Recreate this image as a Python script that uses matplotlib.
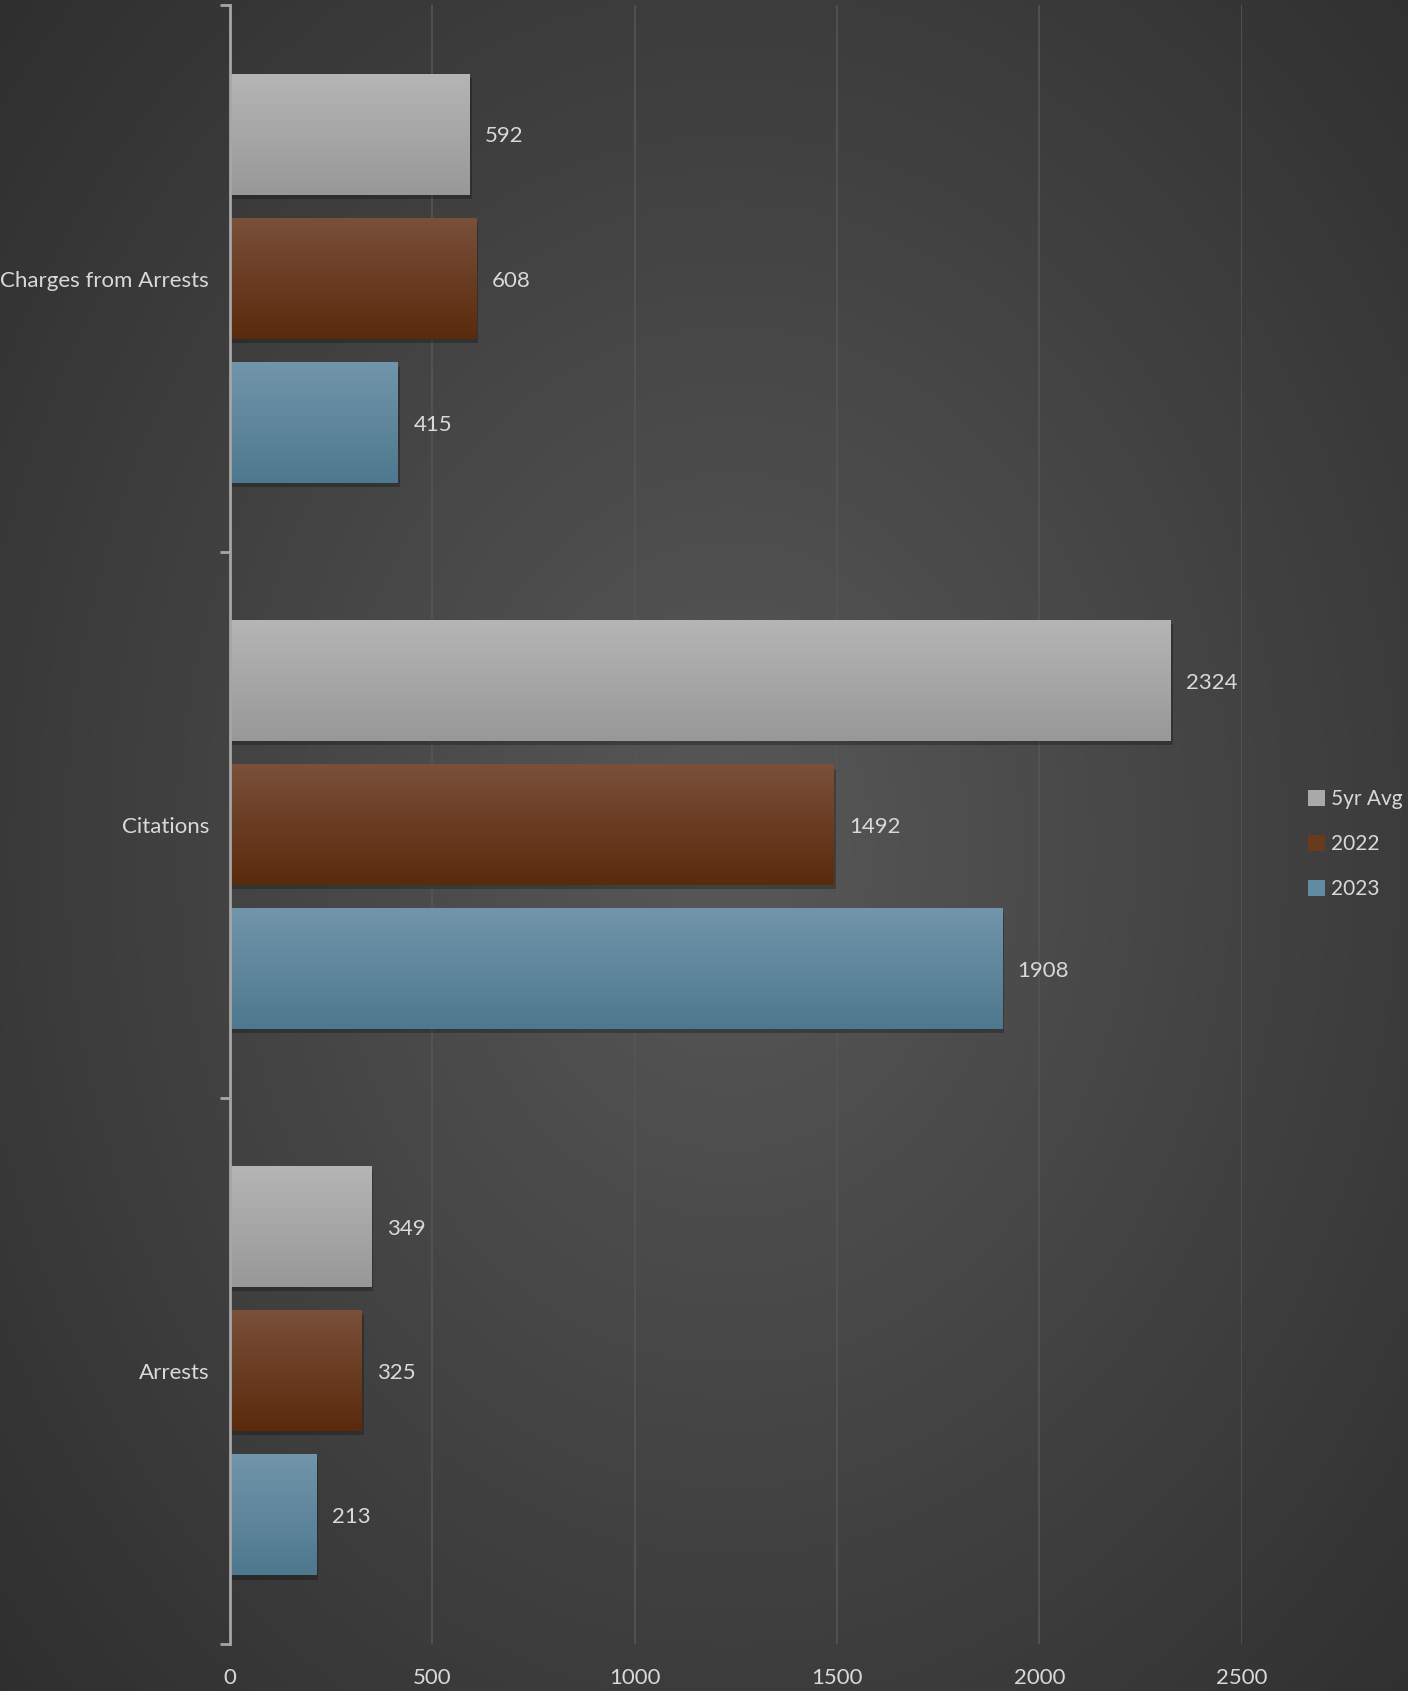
import numpy as np
import matplotlib
matplotlib.use("Agg")
from matplotlib import pyplot as plt
from matplotlib import patheffects as pe
from matplotlib.patches import Patch

plt.rcParams['font.family'] = ['Lato', 'DejaVu Sans']

# data
categories = ['Arrests', 'Citations', 'Charges from Arrests']
series = ['5yr Avg', '2022', '2023']
values = {
    '5yr Avg': [349, 2324, 592],
    '2022': [325, 1492, 608],
    '2023': [213, 1908, 415],
}
# (top colour, bottom colour) of each series' gradient
grad_colors = {
    '5yr Avg': ('#b5b5b5', '#989898'),
    '2022': ('#7a503a', '#5a2a0c'),
    '2023': ('#7195ab', '#4e788f'),
}
legend_colors = {'5yr Avg': '#a9a9a9', '2022': '#6a3a1f', '2023': '#628aa2'}
offsets = {'5yr Avg': 0.264, '2022': 0.0, '2023': -0.264}
bar_h = 0.221
text_col = '#d9d9d9'
fs = 16


def hex2rgb(h):
    return np.array(matplotlib.colors.to_rgb(h))


fig = plt.figure(figsize=(14.08, 16.91), dpi=100)

# radial background
bg = fig.add_axes([0, 0, 1, 1], zorder=-10)
yy, xx = np.mgrid[0:1:400j, 0:1:340j]
r = np.sqrt(((xx - 0.52) / 0.75) ** 2 + ((yy - 0.5) / 0.8) ** 2)
r = np.clip(r, 0, 1)
c_in, c_out = hex2rgb('#585858'), hex2rgb('#2c2c2c')
img = c_in[None, None, :] * (1 - r[..., None]) + c_out[None, None, :] * r[..., None]
bg.imshow(img, extent=[0, 1, 0, 1], aspect='auto', interpolation='bilinear')
bg.set_axis_off()

ax = fig.add_axes([0.1634, 0.0278, 0.882 - 0.1634, 0.9968 - 0.0278])
ax.patch.set_alpha(0)

y = np.arange(len(categories))
for s in series:
    ypos = y + offsets[s]
    bars = ax.barh(ypos, values[s], height=bar_h, color=grad_colors[s][1],
                   zorder=3,
                   path_effects=[pe.SimplePatchShadow(offset=(1.5, -3), alpha=0.25,
                                                      shadow_rgbFace='black'),
                                 pe.Normal()])
    top, bot = hex2rgb(grad_colors[s][0]), hex2rgb(grad_colors[s][1])
    t = np.linspace(0, 1, 64)[:, None]
    grad = top[None, None, :] * (1 - t[..., None]) + bot[None, None, :] * t[..., None]
    grad = np.repeat(grad, 2, axis=1)
    for b, v in zip(bars, values[s]):
        x0, y0 = b.get_x(), b.get_y()
        ax.imshow(grad, extent=[x0, x0 + b.get_width(), y0, y0 + b.get_height()],
                  aspect='auto', zorder=4, interpolation='bilinear')
        ax.annotate(str(v), (v, y0 + b.get_height() / 2), xytext=(11, 0),
                    textcoords='offset points', va='center_baseline', ha='left',
                    color=text_col, fontsize=fs)

ax.set_xlim(0, 2500)
ax.set_ylim(-0.5, 2.5)
ax.set_aspect('auto')

ax.set_xticks([0, 500, 1000, 1500, 2000, 2500])
ax.set_yticks(y)
ax.set_yticklabels(categories)
ax.set_yticks([-0.5, 0.5, 1.5, 2.5], minor=True)
ax.tick_params(axis='y', which='major', length=0, pad=15, labelsize=fs,
               labelcolor=text_col)
ax.tick_params(axis='y', which='minor', length=7, width=2, color='#a6a6a6')
ax.tick_params(axis='x', length=0, pad=17, labelsize=fs, labelcolor=text_col)

for side in ['top', 'right', 'bottom']:
    ax.spines[side].set_visible(False)
ax.spines['left'].set_color('#a6a6a6')
ax.spines['left'].set_linewidth(2)
ax.spines['left'].set_zorder(5)

for xv in [500, 1000, 1500, 2000, 2500]:
    ax.axvline(xv, color='#555555', lw=1.2, zorder=1)

handles = [Patch(facecolor=legend_colors[s], label=s) for s in series]
fig.legend(handles=handles, loc='center left', bbox_to_anchor=(0.916, 0.501),
           frameon=False, fontsize=15, labelcolor=text_col, handlelength=0.8,
           handleheight=0.8, handletextpad=0.3, labelspacing=1.2)

fig.savefig('out.png', dpi=100)
